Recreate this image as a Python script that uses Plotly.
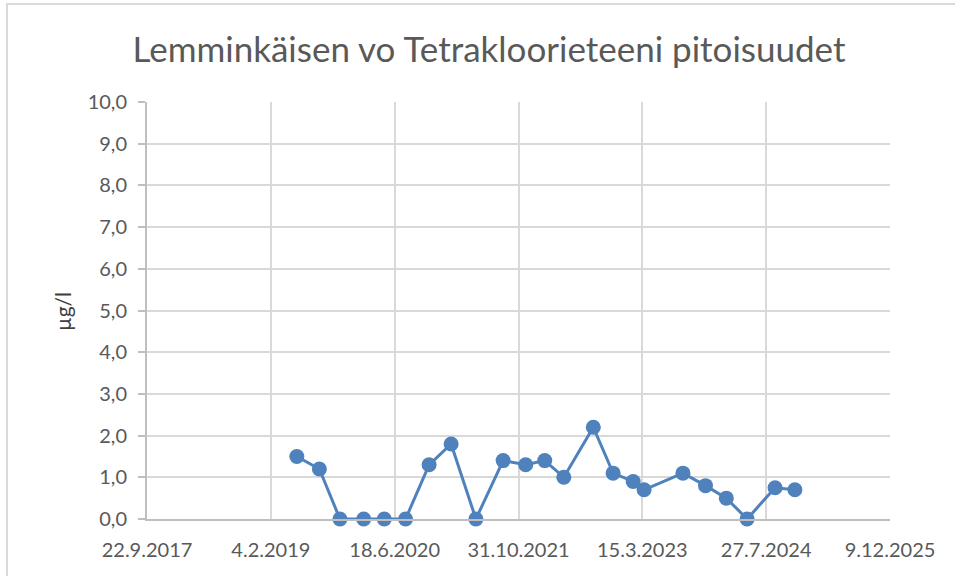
import plotly.graph_objects as go

dates = ["2019-05-20", "2019-08-19", "2019-11-10", "2020-02-14", "2020-05-07",
         "2020-08-01", "2020-11-04", "2021-02-01", "2021-05-12", "2021-08-30",
         "2021-11-29", "2022-02-14", "2022-05-02", "2022-08-29", "2022-11-17",
         "2023-02-06", "2023-03-22", "2023-08-26", "2023-11-25", "2024-02-17",
         "2024-05-11", "2024-09-01", "2024-11-20"]
values = [1.5, 1.2, 0.0, 0.0, 0.0,
          0.0, 1.3, 1.8, 0.0, 1.4,
          1.3, 1.4, 1.0, 2.2, 1.1,
          0.9, 0.7, 1.1, 0.8, 0.5,
          0.0, 0.75, 0.7]
tick_dates = ["2017-09-22", "2019-02-04", "2020-06-18", "2021-10-31",
              "2023-03-15", "2024-07-27", "2025-12-09"]
tick_labels = ["22.9.2017", "4.2.2019", "18.6.2020", "31.10.2021",
               "15.3.2023", "27.7.2024", "9.12.2025"]
y_ticks = [0, 1, 2, 3, 4, 5, 6, 7, 8, 9, 10]

title_text = "Lemminkäisen vo Tetrakloorieteeni pitoisuudet"
y_title = "µg/l"

blue = "#4f81bd"
grey_text = "#595959"
grid = "#d9d9d9"

fig = go.Figure()
fig.add_trace(go.Scatter(
    x=dates, y=values, mode="lines+markers",
    line=dict(color=blue, width=3),
    marker=dict(color=blue, size=15),
    cliponaxis=False, showlegend=False,
))

fig.update_layout(
    width=955, height=576,
    margin=dict(l=147, r=65, t=102, b=57),
    paper_bgcolor="white", plot_bgcolor="white",
    font=dict(family="Lato", color=grey_text, size=20),
    separators=",.",
    title=dict(text=title_text, xref="container", x=489 / 955, xanchor="center",
               y=1 - 50 / 576, yanchor="middle",
               font=dict(size=35, color=grey_text, family="Lato")),
    xaxis=dict(
        type="date", range=[tick_dates[0], tick_dates[-1]],
        tickvals=tick_dates, ticktext=tick_labels,
        showgrid=True, gridcolor=grid, gridwidth=2,
        showline=True, linecolor="#bfbfbf", linewidth=2,
        ticks="", ticklabelstandoff=12,
        tickfont=dict(size=20, color=grey_text),
        zeroline=False,
    ),
    yaxis=dict(
        range=[0, 10], tickvals=y_ticks, tickformat=".1f",
        showgrid=True, gridcolor=grid, gridwidth=2,
        showline=True, linecolor="#bfbfbf", linewidth=2,
        ticks="outside", ticklen=7, tickcolor="#bfbfbf", tickwidth=2,
        ticklabelstandoff=7,
        tickfont=dict(size=20, color=grey_text),
        zeroline=False,
    ),
    annotations=[dict(text=y_title, xref="paper", yref="paper",
                      x=(62 - 147) / 743, y=(519 - 312) / 417,
                      xanchor="center", yanchor="middle", textangle=-90,
                      showarrow=False, font=dict(size=21, color="#404040"))],
    shapes=[dict(type="rect", xref="paper", yref="paper",
                 x0=-140 / 743, x1=1.2, y0=-0.3, y1=(519 - 4) / 417,
                 line=dict(color="#d9d9d9", width=2), fillcolor="rgba(0,0,0,0)",
                 layer="below")],
)

fig.write_html("out.html", config={"displayModeBar": False},
               post_script="document.body.style.margin='0';document.body.style.padding='0';")
